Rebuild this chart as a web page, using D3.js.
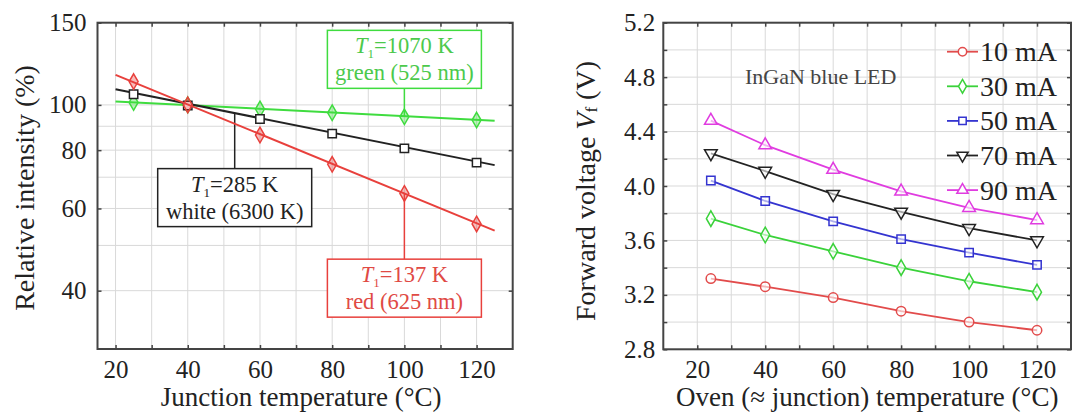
<!DOCTYPE html>
<html>
<head>
<meta charset="utf-8">
<script src="https://cdn.jsdelivr.net/npm/d3@7"></script>
<style>
body { margin: 0; background: #fff; }
text { font-family: "Liberation Serif", "DejaVu Serif", serif; fill: #222; }
</style>
</head>
<body>
<svg id="chart" width="1079" height="417"></svg>
<script>
// ---- left panel: relative intensity vs junction temperature ----
var tempLeft = [25, 40, 60, 80, 100, 120];
var greenVals = [101.2, 100, 98.0, 96.2, 94.3, 92.8];
var whiteVals = [105.4, 99.7, 93.3, 86.8, 80.7, 75.2];
var redVals = [112.2, 100, 86.2, 74.6, 64.6, 55.6];
// exponential fit lines (straight on log axis), start/end
var fitX = [20, 125];
var greenFit = [101.7, 92.5];
var whiteFit = [108, 74.3];
var redFit = [116, 53.8];
var leftXTicks = [20, 30, 40, 50, 60, 70, 80, 90, 100, 110, 120];
var leftYTicks = [40, 50, 60, 70, 80, 90, 100];
var leftYLabels = [40, 60, 80, 100, 150];
var annoKelvin = ["1070", "285", "137"];
var annoName = ["green (525 nm)", "white (6300 K)", "red (625 nm)"];
var annoAnchorX = [100, 53, 100];
var annoBoxY = [125.2, 63.3, 40.5];

// ---- right panel: forward voltage vs oven temperature ----
var tempRight = [24, 40, 60, 80, 100, 120];
var currents = ["10 mA", "30 mA", "50 mA", "70 mA", "90 mA"];
var v10 = [3.32, 3.26, 3.18, 3.08, 3.00, 2.94];
var v30 = [3.76, 3.64, 3.52, 3.40, 3.30, 3.22];
var v50 = [4.04, 3.89, 3.74, 3.61, 3.51, 3.42];
var v70 = [4.24, 4.11, 3.94, 3.81, 3.69, 3.60];
var v90 = [4.48, 4.30, 4.12, 3.96, 3.84, 3.75];
var rightXTicks = [20, 30, 40, 50, 60, 70, 80, 90, 100, 110, 120];
var rightYTicks = [2.8, 3.0, 3.2, 3.4, 3.6, 3.8, 4.0, 4.2, 4.4, 4.6, 4.8, 5.0, 5.2];

var svg = d3.select("#chart");
var gridColor = "#d9d9d9";
var frameColor = "#444";

drawLeft();
drawRight();

// inward tick marks on all four sides + tick labels
function frameAxes(g, x, y, xt, yt, xfmt, yfmt, yPad) {
    g.append("g").attr("transform", "translate(0," + y.range()[0] + ")")
        .call(d3.axisBottom(x).tickValues(xt).tickSize(-4).tickPadding(11).tickFormat(xfmt));
    g.append("g").attr("transform", "translate(0," + y.range()[1] + ")")
        .call(d3.axisTop(x).tickValues(xt).tickSize(-4).tickFormat(""));
    g.append("g").attr("transform", "translate(" + x.range()[0] + ",0)")
        .call(d3.axisLeft(y).tickValues(yt).tickSize(-4).tickPadding(yPad).tickFormat(yfmt));
    g.append("g").attr("transform", "translate(" + x.range()[1] + ",0)")
        .call(d3.axisRight(y).tickValues(yt).tickSize(-4).tickFormat(""));
    g.selectAll(".domain").remove();
    g.selectAll(".tick line").attr("stroke", frameColor).attr("stroke-width", 1.5);
    g.selectAll(".tick text").attr("font-size", "25px").attr("font-family", "Liberation Serif").attr("fill", "#222");
    g.append("rect")
        .attr("x", x.range()[0]).attr("y", y.range()[1])
        .attr("width", x.range()[1] - x.range()[0])
        .attr("height", y.range()[0] - y.range()[1])
        .attr("fill", "none").attr("stroke", frameColor).attr("stroke-width", 2);
}

function drawGrid(g, x, y, xt, yt) {
    g.selectAll("vgrid").data(xt).enter().append("line")
        .attr("x1", d => x(d)).attr("x2", d => x(d))
        .attr("y1", y.range()[0]).attr("y2", y.range()[1])
        .attr("stroke", gridColor).attr("stroke-width", 1);
    g.selectAll("hgrid").data(yt).enter().append("line")
        .attr("y1", d => y(d)).attr("y2", d => y(d))
        .attr("x1", x.range()[0]).attr("x2", x.range()[1])
        .attr("stroke", gridColor).attr("stroke-width", 1);
}

function drawLeft() {
    var g = svg.append("g");
    var x = d3.scaleLinear().domain([15, 130]).range([97.5, 512.7]);
    var y = d3.scaleLog().domain([30, 150]).range([349, 22.7]);

    drawGrid(g, x, y, leftXTicks, leftYTicks);

    var series = [
        {vals: greenVals, fit: greenFit, color: "#3fdc3f", text: "#4cc94c"},
        {vals: whiteVals, fit: whiteFit, color: "#222", text: "#222"},
        {vals: redVals, fit: redFit, color: "#e8403c", text: "#e04a44"}
    ];
    var line = d3.line().x(d => x(d[0])).y(d => y(d[1]));

    series.forEach(function (s, i) {
        g.append("path")
            .datum(fitX.map((t, k) => [t, s.fit[k]]))
            .attr("d", line)
            .attr("fill", "none").attr("stroke", s.color).attr("stroke-width", 2);
        var shape = i == 1 ? d3.symbolSquare : d3.symbolDiamond;
        g.selectAll("pts").data(tempLeft.map((t, k) => [t, s.vals[k]])).enter().append("path")
            .attr("transform", d => "translate(" + x(d[0]) + "," + y(d[1]) + ")")
            .attr("d", d3.symbol().type(shape).size(i == 1 ? 70 : 70))
            .attr("fill", i == 1 ? "#fff" : s.color).attr("fill-opacity", i == 1 ? 1 : 0.35)
            .attr("stroke", s.color).attr("stroke-width", 1.5);

        // annotation box + leader to the fit line
        var bw = 154, bh = 58;
        var cx = x(annoAnchorX[i]), cy = y(annoBoxY[i]);
        var frac = (annoAnchorX[i] - fitX[0]) / (fitX[1] - fitX[0]);
        var onLine = Math.exp(Math.log(s.fit[0]) + frac * (Math.log(s.fit[1]) - Math.log(s.fit[0])));
        var edge = y(onLine) < cy ? cy - bh / 2 : cy + bh / 2;
        g.append("line")
            .attr("x1", cx).attr("x2", cx).attr("y1", edge).attr("y2", y(onLine))
            .attr("stroke", s.color).attr("stroke-width", 1.5);
        g.append("rect")
            .attr("x", cx - bw / 2).attr("y", cy - bh / 2).attr("width", bw).attr("height", bh)
            .attr("fill", "#fff").attr("stroke", s.color).attr("stroke-width", 1.5);
        var t1 = g.append("text").attr("x", cx).attr("y", cy - 6)
            .attr("text-anchor", "middle").attr("font-size", "22.5px").style("fill", s.text);
        t1.append("tspan").attr("font-style", "italic").text("T");
        t1.append("tspan").attr("font-size", "13px").attr("dy", 5).text("1");
        t1.append("tspan").attr("dy", -5).text("=" + annoKelvin[i] + " K");
        g.append("text").attr("x", cx).attr("y", cy + 21)
            .attr("text-anchor", "middle").attr("font-size", "22.5px").style("fill", s.text)
            .text(annoName[i]);
    });

    frameAxes(g, x, y, leftXTicks, leftYLabels,
        d => d % 20 == 0 ? d : "", d => d, 11);

    g.append("text").attr("x", (x.range()[0] + x.range()[1]) / 2 - 4).attr("y", 406)
        .attr("text-anchor", "middle").attr("font-size", "27px")
        .text("Junction temperature (°C)");
    g.append("text").attr("transform", "translate(24,188) rotate(-90)")
        .attr("text-anchor", "middle").attr("dominant-baseline", "central")
        .attr("font-size", "28px").text("Relative intensity (%)");
}

function drawRight() {
    var g = svg.append("g");
    var x = d3.scaleLinear().domain([10, 130]).range([663.3, 1071]);
    var y = d3.scaleLinear().domain([2.8, 5.2]).range([349.3, 22.7]);

    drawGrid(g, x, y, rightXTicks, rightYTicks);

    var series = [v10, v30, v50, v70, v90];
    var colors = ["#e24b4b", "#3ad23a", "#3434d0", "#222", "#e03ce0"];
    var shapes = [d3.symbolCircle, d3.symbolDiamond, d3.symbolSquare, d3.symbolTriangle, d3.symbolTriangle];
    var rotate = [0, 0, 0, 180, 0];
    var line = d3.line().x(d => x(d[0])).y(d => y(d[1]));

    series.forEach(function (vals, i) {
        var pts = tempRight.map((t, k) => [t, vals[k]]);
        g.append("path").datum(pts).attr("d", line)
            .attr("fill", "none").attr("stroke", colors[i]).attr("stroke-width", 1.8);
        g.selectAll("pts").data(pts).enter().append("path")
            .attr("transform", d => "translate(" + x(d[0]) + "," + y(d[1]) + ") rotate(" + rotate[i] + ")")
            .attr("d", d3.symbol().type(shapes[i]).size(70))
            .attr("fill", "#fff").attr("fill-opacity", 0.6)
            .attr("stroke", colors[i]).attr("stroke-width", 1.5);

        // legend entry
        var ly = 51.7 + i * 34.6;
        g.append("line").attr("x1", 947).attr("x2", 978).attr("y1", ly).attr("y2", ly)
            .attr("stroke", colors[i]).attr("stroke-width", 1.8);
        g.append("path").attr("transform", "translate(962.5," + ly + ") rotate(" + rotate[i] + ")")
            .attr("d", d3.symbol().type(shapes[i]).size(55))
            .attr("fill", "#fff").attr("stroke", colors[i]).attr("stroke-width", 1.5);
        g.append("text").attr("x", 980).attr("y", ly).attr("dy", "0.34em")
            .attr("font-size", "28px").text(currents[i]);
    });

    frameAxes(g, x, y, rightXTicks, rightYTicks,
        d => d % 20 == 0 ? d : "",
        d => Math.round(d * 10) % 4 == 0 ? d.toFixed(1) : "", 8);

    g.append("text").attr("x", 820.7).attr("y", 76.7).attr("dy", "0.34em")
        .attr("text-anchor", "middle").attr("font-size", "22px").style("fill", "#444")
        .text("InGaN blue LED");

    g.append("text").attr("x", (x.range()[0] + x.range()[1]) / 2).attr("y", 406)
        .attr("text-anchor", "middle").attr("font-size", "27px")
        .text("Oven (≈ junction) temperature (°C)");
    var yt = g.append("text").attr("transform", "translate(585,191) rotate(-90)")
        .attr("text-anchor", "middle").attr("dominant-baseline", "central")
        .attr("font-size", "28px");
    yt.append("tspan").text("Forward voltage ");
    yt.append("tspan").attr("font-style", "italic").text("V");
    yt.append("tspan").attr("font-size", "17px").attr("dy", 6).text("f");
    yt.append("tspan").attr("dy", -6).text(" (V)");
}
</script>
</body>
</html>
